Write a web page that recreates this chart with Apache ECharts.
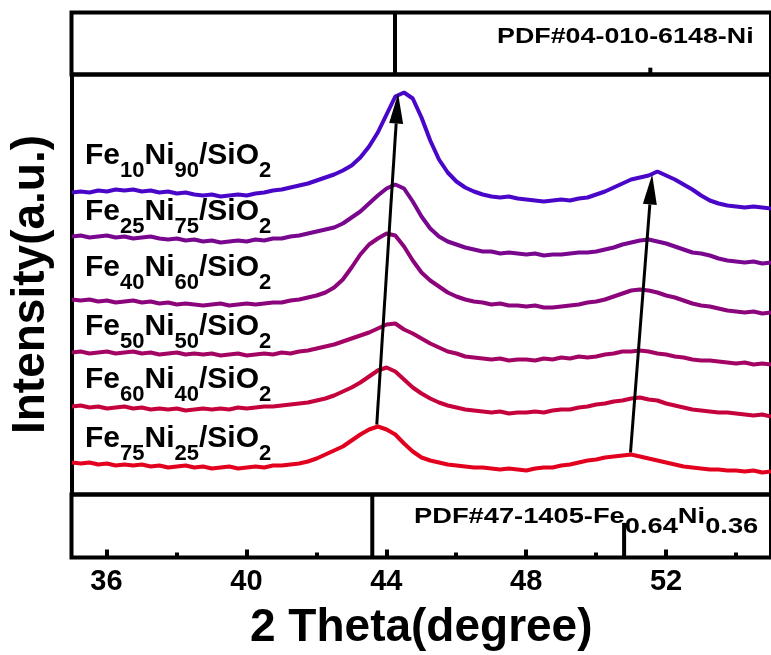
<!DOCTYPE html>
<html><head><meta charset="utf-8">
<script src="https://cdn.jsdelivr.net/npm/echarts@6/dist/echarts.min.js"></script>
<style>html,body{margin:0;padding:0;background:#fff}#c{width:771px;height:655px}</style>
</head><body><div id="c"></div>
<script>
// 2θ sampling (degrees)
const twoTheta = [
 35,35.25,35.5,35.75, 36,36.25,36.5,36.75, 37,37.25,37.5,37.75, 38,38.25,38.5,38.75,
 39,39.25,39.5,39.75, 40,40.25,40.5,40.75, 41,41.25,41.5,41.75, 42,42.25,42.5,42.75,
 43,43.25,43.5,43.75, 44,44.25,44.5,44.75, 45,45.25,45.5,45.75, 46,46.25,46.5,46.75,
 47,47.25,47.5,47.75, 48,48.25,48.5,48.75, 49,49.25,49.5,49.75, 50,50.25,50.5,50.75,
 51,51.25,51.5,51.75, 52,52.25,52.5,52.75, 53,53.25,53.5,53.75, 54,54.25,54.5,54.75, 55];

// stacked intensities (a.u.)
const fe10ni90 = [302,303,302,304, 303,305,304,305, 303,304,302,303, 301,302,300,299, 300,298,299,300,
 299,301,302,304, 305,307,309,311, 314,317,320,324, 329,337,348,362, 380,398,402,396, 377,354,335,322,
 313,307,303,300, 298,297,298,296, 295,294,293,294, 295,294,296,297, 300,303,307,311, 315,317,319,323,
 319,315,310,305, 299,294,291,289, 288,287,288,287, 286];
const fe25ni75 = [258,259,257,258, 259,257,258,256, 257,258,256,255, 256,254,255,253, 254,252,253,254,
 253,255,254,256, 256,258,259,261, 263,265,267,271, 277,283,291,299, 306,310,306,293, 278,266,258,253,
 250,247,245,243, 243,241,242,241, 240,241,239,240, 240,241,242,242, 243,245,247,250, 252,254,255,253,
 251,248,245,242, 241,239,236,234, 233,232,233,231, 232];
const fe40ni60 = [195,194,195,193, 194,192,193,194, 192,193,191,192, 190,191,190,189, 190,191,189,190,
 191,190,191,192, 192,194,195,197, 199,202,207,215, 227,240,250,256, 261,259,248,234, 222,214,208,202,
 198,195,193,192, 190,191,189,189, 188,189,187,187, 188,189,190,192, 193,195,198,201, 204,205,204,202,
 199,197,194,191, 189,188,186,184, 183,182,183,181, 182];
const fe50ni50 = [142,143,141,142, 143,141,142,143, 141,142,140,141, 142,140,141,140, 141,139,140,141,
 139,140,141,140, 142,141,143,144, 146,148,150,153, 156,159,162,166, 170,171,165,161, 156,151,147,143,
 141,138,137,136, 135,136,134,135, 135,134,136,135, 137,136,138,137, 138,140,141,143, 143,144,143,141,
 140,138,137,135, 134,134,133,132, 131,132,130,131, 130];
const fe60ni40 = [88,89,87,88, 86,87,88,86, 87,85,86,85, 86,84,85,86, 85,86,85,87,
 86,87,88,88, 89,90,91,92, 94,96,99,103, 107,112,118,124, 127,123,115,107, 101,96,92,89,
 87,85,84,83, 82,83,81,82, 82,83,82,84, 85,85,87,88, 90,91,93,94, 96,97,95,94,
 91,89,87,85, 84,83,82,82, 81,80,79,80, 78];
const fe75ni25 = [32,31,32,30, 31,29,30,29, 30,28,29,27, 28,29,27,28, 26,27,28,26,
 27,28,27,29, 29,30,31,33, 36,40,44,48, 54,60,65,68, 65,60,51,43, 37,34,32,30,
 29,28,27,27, 26,25,26,25, 24,26,27,27, 29,30,32,34, 35,37,38,39, 40,38,36,34,
 32,30,28,27, 26,25,25,24, 24,23,24,22, 23];

const sampleFe = ['10','25','40','50','60','75'];
const sampleNi = ['90','75','60','50','40','25'];
const xTicks = [36,40,44,48,52];
const xMinorTicks = [38,42,46,50,54];
// reference patterns (position, relative height %)
const niPeaks = [44.25, 51.55];
const niHeights = [100, 11];
const feNiPeaks = [43.6, 50.8];
const feNiHeights = [100, 55];
// shift arrows: start [2θ, I], end [2θ, I]
const arrowStart = [[43.72, 70], [50.98, 42]];
const arrowEnd = [[44.33, 401], [51.6, 320]];

const seriesData = [fe10ni90, fe25ni75, fe40ni60, fe50ni50, fe60ni40, fe75ni25];
const colors = ['#4a06c8', '#78068e', '#8c047c', '#a30464', '#c6023c', '#e2001e'];
const labelCapY = [158, 214, 270, 329, 382, 441];

const FONT = 'Liberation Sans, Arial, sans-serif';
const chart = echarts.init(document.getElementById('c'), null, {renderer: 'canvas'});

const gridBase = {left: 71.5, width: 702.8, show: true, borderColor: '#000', borderWidth: 4, backgroundColor: 'transparent'};
const hiddenX = (gi) => ({type: 'value', gridIndex: gi, min: 35, max: 55, axisLine: {show: false}, axisTick: {show: false}, axisLabel: {show: false}, splitLine: {show: false}});
const hiddenY = (gi, max) => ({type: 'value', gridIndex: gi, min: 0, max: max, axisLine: {show: false}, axisTick: {show: false}, axisLabel: {show: false}, splitLine: {show: false}});

function stickRender(params, api) {
  const x = api.value(0);
  const p0 = api.coord([x, 0]);
  const p1 = api.coord([x, api.value(1)]);
  return {type: 'line', shape: {x1: p0[0], y1: p0[1], x2: p1[0], y2: p1[1]}, style: {stroke: '#000', lineWidth: 4}};
}
function arrowRender(params, api) {
  const a = api.coord([api.value(0), api.value(1)]);
  const b = api.coord([api.value(2), api.value(3)]);
  const dx = b[0] - a[0], dy = b[1] - a[1];
  const len = Math.sqrt(dx * dx + dy * dy);
  const ux = dx / len, uy = dy / len;
  const hl = 30, hw = 7;
  const bx = b[0] - ux * hl, by = b[1] - uy * hl;
  return {type: 'group', children: [
    {type: 'line', shape: {x1: a[0], y1: a[1], x2: bx, y2: by}, style: {stroke: '#000', lineWidth: 3}},
    {type: 'polygon', shape: {points: [[b[0], b[1]], [bx - uy * hw, by + ux * hw], [bx + uy * hw, by - ux * hw]]}, style: {fill: '#000'}}
  ]};
}

const series = seriesData.map((arr, i) => ({
  type: 'line', xAxisIndex: 1, yAxisIndex: 1, showSymbol: false, symbol: 'none',
  data: twoTheta.map((x, k) => [x, arr[k]]),
  lineStyle: {color: colors[i], width: 4}, z: 3
}));
series.push({type: 'custom', xAxisIndex: 0, yAxisIndex: 0, renderItem: stickRender,
  data: niPeaks.map((p, i) => [p, niHeights[i]]), z: 5});
series.push({type: 'custom', xAxisIndex: 2, yAxisIndex: 2, renderItem: stickRender,
  data: feNiPeaks.map((p, i) => [p, feNiHeights[i]]), z: 5});
series.push({type: 'custom', xAxisIndex: 1, yAxisIndex: 1, renderItem: arrowRender, clip: false,
  encode: {x: [0, 2], y: [1, 3]},
  data: arrowStart.map((s, i) => [s[0], s[1], arrowEnd[i][0], arrowEnd[i][1]]), z: 6});

const richSample = {
  m: {fontSize: 30, fontWeight: 'bold', fontFamily: FONT, color: '#000', lineHeight: 36, verticalAlign: 'top'},
  s: {fontSize: 22, fontWeight: 'bold', fontFamily: FONT, color: '#000', lineHeight: 22, padding: [19, 0, 0, 0], verticalAlign: 'top'}
};
const graphics = sampleFe.map((fe, i) => ({
  type: 'text', x: 85, y: labelCapY[i] - 17, z: 10,
  style: {text: '{m|Fe}{s|' + fe + '}{m|Ni}{s|' + sampleNi[i] + '}{m|/SiO}{s|2}', rich: richSample, align: 'left', verticalAlign: 'top'}
}));
const richPdf = {
  m: {fontSize: 22, fontWeight: 'bold', fontFamily: FONT, color: '#000', lineHeight: 26, verticalAlign: 'top'},
  s: {fontSize: 22, fontWeight: 'bold', fontFamily: FONT, color: '#000', lineHeight: 22, padding: [10, 0, 0, 0], verticalAlign: 'top'}
};
graphics.push({type: 'text', x: 497, y: 26, scaleX: 1.22, z: 10,
  style: {text: '{m|PDF#04-010-6148-Ni}', rich: richPdf, align: 'left', verticalAlign: 'top'}});
graphics.push({type: 'text', x: 414, y: 506, scaleX: 1.24, z: 10,
  style: {text: '{m|PDF#47-1405-Fe}{s|0.64}{m|Ni}{s|0.36}', rich: richPdf, align: 'left', verticalAlign: 'top'}});

chart.setOption({
  animation: false,
  backgroundColor: '#fff',
  grid: [
    Object.assign({top: 12.5, height: 62}, gridBase),
    Object.assign({top: 74.5, height: 420}, gridBase),
    Object.assign({top: 494.5, height: 63}, gridBase)
  ],
  xAxis: [
    hiddenX(0), hiddenX(1),
    {type: 'value', gridIndex: 2, min: 35, max: 55, position: 'bottom',
     axisLine: {show: false}, splitLine: {show: false},
     axisTick: {show: true, inside: true, length: 8, lineStyle: {color: '#000', width: 4}, customValues: xTicks},
     axisLabel: {show: true, customValues: xTicks, fontSize: 29, fontWeight: 'bold', fontFamily: FONT, color: '#000', margin: 10},
     name: '2 Theta(degree)', nameLocation: 'middle', nameGap: 48,
     nameTextStyle: {fontSize: 46, fontWeight: 'bold', fontFamily: FONT, color: '#000'}},
    {type: 'value', gridIndex: 2, min: 35, max: 55, position: 'bottom',
     axisLine: {show: false}, splitLine: {show: false}, axisLabel: {show: false},
     axisTick: {show: true, inside: true, length: 5, lineStyle: {color: '#000', width: 4}, customValues: xMinorTicks}}
  ],
  yAxis: [
    hiddenY(0, 100),
    Object.assign(hiddenY(1, 420), {name: 'Intensity(a.u.)', nameLocation: 'middle', nameGap: 18, nameRotate: 90,
      nameTextStyle: {fontSize: 46, fontWeight: 'bold', fontFamily: FONT, color: '#000'}}),
    hiddenY(2, 100)
  ],
  series: series,
  graphic: graphics
});
</script></body></html>
